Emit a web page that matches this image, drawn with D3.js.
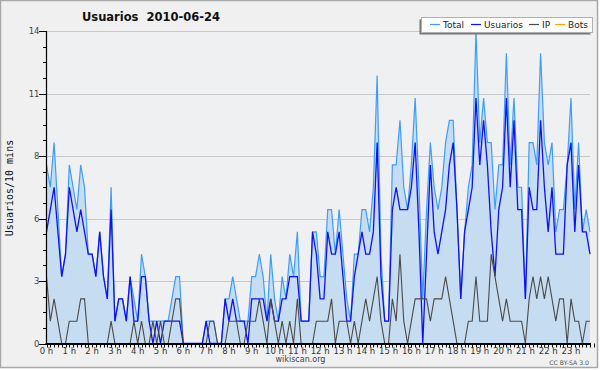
<!DOCTYPE html>
<html><head><meta charset="utf-8">
<script src="https://cdn.jsdelivr.net/npm/d3@7/dist/d3.min.js"></script>
<style>body{margin:0;background:#fff}svg{display:block}</style>
</head><body>
<svg id="c" width="600" height="370"></svg>
<script>
const title = "Usuarios  2010-06-24";
const yTitle = "Usuarios/10 mins";
const seriesNames = ["Total", "Usuarios", "IP", "Bots"];
const hourLabels = d3.range(24).map(h => h + " h");
const yTickValues = [0, 2.8, 5.6, 8.4, 11.2, 14];
const yTickLabels = ["0", "3", "6", "8", "11", "14"];

const usuarios = [5,6,7,5,3,4,7,6,5,6,5,4,4,3,5,3,2,6,1,2,2,1,3,1,1,3,3,1,0,1,0,1,1,1,1,1,
0,0,0,0,0,0,1,0,0,0,0,2,1,2,1,1,1,0,2,2,2,2,1,2,1,1,2,2,3,3,3,1,1,1,
5,4,2,2,5,4,4,5,3,1,1,3,4,5,4,4,5,9,3,1,1,6,7,6,6,6,7,9,5,0,4,8,5,4,
5,6,8,9,6,2,5,6,7,11,8,10,8,5,3,6,7,11,7,10,6,6,2,7,6,6,10,7,5,7,4,4,4,8,9,5,8,5,5,4];
const ip = [3,1,2,1,0,0,1,1,1,2,2,0,0,0,0,0,0,1,0,0,0,0,0,1,0,1,0,0,1,0,1,0,0,1,2,2,
0,0,0,0,0,0,0,1,1,0,0,0,1,1,1,0,0,1,1,1,2,1,0,2,1,0,1,0,1,0,2,0,0,0,
0,1,1,1,1,2,0,1,1,1,0,1,0,1,2,1,2,3,1,0,0,2,1,4,1,0,1,2,2,2,2,1,2,2,
2,3,2,1,0,0,0,1,1,3,1,1,1,4,3,2,1,2,1,1,1,1,0,2,3,2,3,2,3,2,1,2,2,0,2,1,1,0,1,1];
const total = [8,7,9,6,3,4,8,7,6,8,7,4,4,3,5,3,2,7,1,2,2,1,3,2,1,4,3,1,1,1,1,1,1,2,3,3,
0,0,0,0,0,0,1,1,1,0,0,2,2,3,2,1,1,1,3,3,4,3,1,4,2,1,3,2,4,3,5,1,1,1,
5,5,3,3,6,6,4,6,4,2,1,4,4,6,6,5,7,12,4,1,1,8,8,10,7,6,8,11,7,2,6,9,7,6,
7,9,10,10,6,2,5,7,8,14,9,11,9,9,6,8,8,13,8,11,7,7,2,9,9,8,13,9,8,9,5,6,6,8,11,6,9,5,6,5];
const bots = total.map(() => 0);

const svg = d3.select("#c");
const W = 600, H = 370;
const L = 46.5, R = 590, T = 31, B = 343.5;

svg.append("rect").attr("x",0).attr("y",0).attr("width",W).attr("height",H).attr("fill","#ffffff");
svg.append("rect").attr("x",0.5).attr("y",0.5).attr("width",597).attr("height",367)
  .attr("fill","#f0f0f0").attr("stroke","#a8a8a8").attr("stroke-width",1.5);

const x = d3.scaleLinear().domain([0, total.length - 1]).range([L, R]);
const y = d3.scaleLinear().domain([0, 14]).range([B, T]);

svg.append("rect").attr("x",L).attr("y",T).attr("width",R-L).attr("height",B-T).attr("fill","#eef0f2");

// grid
svg.append("g").selectAll("line").data(yTickValues.slice(1)).join("line")
  .attr("x1",L).attr("x2",R).attr("y1",d=>Math.round(y(d))+0.5).attr("y2",d=>Math.round(y(d))+0.5)
  .attr("stroke","#c8c8c8").attr("stroke-width",1);

const area = d3.area().x((d,i)=>x(i)).y0(y(0)).y1(d=>y(d));
svg.append("path").datum(total).attr("d",area).attr("fill","#c6ddf1");

const line = d3.line().x((d,i)=>x(i)).y(d=>y(d));
svg.append("path").datum(bots).attr("d",line).attr("fill","none").attr("stroke","#ffa500").attr("stroke-width",1);
svg.append("path").datum(total).attr("d",line).attr("fill","none").attr("stroke","#3d9dfa").attr("stroke-width",1.2);
svg.append("path").datum(usuarios).attr("d",line).attr("fill","none").attr("stroke","#1010f0").attr("stroke-width",1.3);
svg.append("path").datum(ip).attr("d",line).attr("fill","none").attr("stroke","#4a4a4a").attr("stroke-width",1.1);

// y axis
const yMinor = d3.range(0, 14.01, 0.7);
const gy = svg.append("g");
gy.selectAll("line.mn").data(yMinor).join("line").attr("class","mn")
  .attr("x1",L-3.5).attr("x2",L).attr("y1",d=>Math.round(y(d))+0.5).attr("y2",d=>Math.round(y(d))+0.5)
  .attr("stroke","#000");
gy.selectAll("line.mj").data(yTickValues).join("line").attr("class","mj")
  .attr("x1",L-7.5).attr("x2",L).attr("y1",d=>Math.round(y(d))+0.5).attr("y2",d=>Math.round(y(d))+0.5)
  .attr("stroke","#000");
gy.selectAll("text").data(yTickValues).join("text")
  .attr("x",L-7).attr("y",d=>y(d)+3).attr("text-anchor","end")
  .attr("font-family","DejaVu Sans").attr("font-size",8.5).attr("fill","#444")
  .text((d,i)=>yTickLabels[i]);
gy.append("line").attr("x1",L).attr("x2",L).attr("y1",T).attr("y2",B+1).attr("stroke","#000").attr("stroke-width",1.2);

// x axis
const gx = svg.append("g");
gx.selectAll("line.t").data(d3.range(total.length + 1)).join("line").attr("class","t")
  .attr("x1",d=>Math.round(x(d))+0.5).attr("x2",d=>Math.round(x(d))+0.5)
  .attr("y1",B).attr("y2",B+4).attr("stroke","#000");
gx.append("line").attr("x1",L-1).attr("x2",R+1).attr("y1",B+0.5).attr("y2",B+0.5).attr("stroke","#000").attr("stroke-width",1.8);
gx.selectAll("text").data(hourLabels).join("text")
  .attr("x",(d,i)=>x(i*6)).attr("y",354).attr("text-anchor","middle")
  .attr("font-family","DejaVu Sans").attr("font-size",8.5).attr("fill","#333")
  .text(d=>d);

// titles
svg.append("text").attr("x",151).attr("y",21).attr("text-anchor","middle")
  .attr("font-family","DejaVu Sans").attr("font-weight","bold").attr("font-size",11.5).attr("fill","#111")
  .attr("xml:space","preserve").style("white-space","pre").text(title);
svg.append("text").attr("transform","translate(13,188) rotate(-90)").attr("text-anchor","middle")
  .attr("font-family","DejaVu Sans Mono").attr("font-size",10).attr("fill","#111").text(yTitle);

svg.append("text").attr("x",300.5).attr("y",362).attr("text-anchor","middle")
  .attr("font-family","DejaVu Sans").attr("font-size",8).attr("fill","#444").text("wikiscan.org");
svg.append("text").attr("x",589).attr("y",365).attr("text-anchor","end")
  .attr("font-family","DejaVu Sans").attr("font-size",6.2).attr("fill","#555").text("CC BY-SA 3.0");

// legend
const lg = svg.append("g");
lg.append("rect").attr("x",419.5).attr("y",19.5).attr("width",171).attr("height",15).attr("fill","#777");
lg.append("rect").attr("x",421.5).attr("y",17.5).attr("width",171).attr("height",15).attr("fill","#fff").attr("stroke","#b0b0b0");
const legColors = ["#3d9dfa","#1010f0","#4a4a4a","#ffa500"];
const textStarts = [443, 484, 542, 568];
seriesNames.forEach((n,i)=>{
  lg.append("line").attr("x1",textStarts[i]-13).attr("x2",textStarts[i]-3).attr("y1",24.5).attr("y2",24.5)
    .attr("stroke",legColors[i]).attr("stroke-width",1.2);
  lg.append("text").attr("x",textStarts[i]).attr("y",28).attr("font-family","DejaVu Sans").attr("font-size",9)
    .attr("fill","#222").text(n);
});
</script>
</body></html>
